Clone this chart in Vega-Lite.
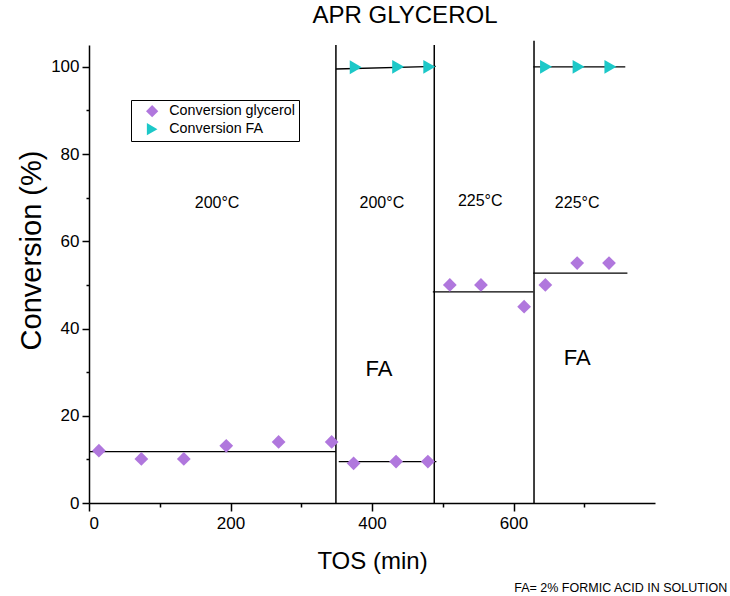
{
  "$schema": "https://vega.github.io/schema/vega-lite/v6.json",
  "width": 566,
  "height": 458,
  "autosize": {"type": "none"},
  "padding": {"left": 89, "top": 45, "right": 75, "bottom": 93},
  "background": "white",
  "config": {
    "font": "Liberation Sans",
    "view": {"stroke": null},
    "axis": {
      "domainColor": "black",
      "domainWidth": 1.5,
      "tickColor": "black",
      "tickWidth": 1.5,
      "labelColor": "black",
      "titleColor": "black",
      "labelFont": "Liberation Sans",
      "titleFont": "Liberation Sans",
      "titleFontWeight": "normal",
      "grid": false
    }
  },
  "title": {
    "text": "APR GLYCEROL",
    "fontSize": 24,
    "fontWeight": "normal",
    "font": "Liberation Sans",
    "color": "black",
    "anchor": "middle",
    "dx": 33,
    "offset": 12
  },
  "layer": [
    {
      "data": {"values": [
        {"tos": 349, "bottom": 0, "top": 105},
        {"tos": 488, "bottom": 0, "top": 105},
        {"tos": 629, "bottom": 0, "top": 106}
      ]},
      "mark": {"type": "rule", "color": "black", "strokeWidth": 1.5},
      "encoding": {
        "x": {"field": "tos", "type": "quantitative", "scale": {"domain": [0, 800], "nice": false},
          "axis": {"title": "TOS (min)", "titleFontSize": 24, "titlePadding": 18,
            "values": [0, 100, 200, 300, 400, 500, 600, 700],
            "labelExpr": "datum.value % 200 === 0 ? datum.label : ''",
            "labelFontSize": 17, "labelPadding": 4,
            "tickSize": {"condition": {"test": "datum.value % 200 === 0", "value": 8}, "value": 4}}},
        "y": {"field": "bottom", "type": "quantitative", "scale": {"domain": [0, 105], "nice": false},
          "axis": {"title": "Conversion (%)", "titleFontSize": 29, "titlePadding": 4, "titleY": 205,
            "values": [0, 10, 20, 30, 40, 50, 60, 70, 80, 90, 100],
            "labelExpr": "datum.value % 20 === 0 ? datum.label : ''",
            "labelFontSize": 17, "labelPadding": 3,
            "tickSize": {"condition": {"test": "datum.value % 20 === 0", "value": 7}, "value": 3}}},
        "y2": {"field": "top"}
      }
    },
    {
      "data": {"values": [
        {"x1": 0, "x2": 349, "y1": 11.8, "y2": 11.8},
        {"x1": 353, "x2": 491, "y1": 9.5, "y2": 9.5},
        {"x1": 486, "x2": 628, "y1": 48.4, "y2": 48.4},
        {"x1": 628, "x2": 761, "y1": 52.7, "y2": 52.7},
        {"x1": 349, "x2": 490, "y1": 99.5, "y2": 100.1},
        {"x1": 628, "x2": 758, "y1": 100, "y2": 100}
      ]},
      "mark": {"type": "rule", "color": "black", "strokeWidth": 1.3},
      "encoding": {
        "x": {"field": "x1", "type": "quantitative"},
        "x2": {"field": "x2"},
        "y": {"field": "y1", "type": "quantitative"},
        "y2": {"field": "y2"}
      }
    },
    {
      "data": {"values": [
        {"series": "Conversion glycerol", "tos": 14, "conv": 12.0},
        {"series": "Conversion glycerol", "tos": 74, "conv": 10.1},
        {"series": "Conversion glycerol", "tos": 134, "conv": 10.1},
        {"series": "Conversion glycerol", "tos": 194, "conv": 13.1},
        {"series": "Conversion glycerol", "tos": 268, "conv": 14.0},
        {"series": "Conversion glycerol", "tos": 343, "conv": 14.0},
        {"series": "Conversion glycerol", "tos": 374, "conv": 9.1},
        {"series": "Conversion glycerol", "tos": 434, "conv": 9.5},
        {"series": "Conversion glycerol", "tos": 479, "conv": 9.5},
        {"series": "Conversion glycerol", "tos": 510, "conv": 50.0},
        {"series": "Conversion glycerol", "tos": 554, "conv": 50.0},
        {"series": "Conversion glycerol", "tos": 615, "conv": 45.0},
        {"series": "Conversion glycerol", "tos": 645, "conv": 50.0},
        {"series": "Conversion glycerol", "tos": 690, "conv": 55.0},
        {"series": "Conversion glycerol", "tos": 735, "conv": 55.0},
        {"series": "Conversion FA", "tos": 377, "conv": 99.9},
        {"series": "Conversion FA", "tos": 437, "conv": 100},
        {"series": "Conversion FA", "tos": 481, "conv": 100},
        {"series": "Conversion FA", "tos": 646, "conv": 100},
        {"series": "Conversion FA", "tos": 692, "conv": 100},
        {"series": "Conversion FA", "tos": 737, "conv": 100}
      ]},
      "mark": {"type": "point", "filled": true, "opacity": 1, "size": 190},
      "encoding": {
        "x": {"field": "tos", "type": "quantitative"},
        "y": {"field": "conv", "type": "quantitative"},
        "color": {"field": "series", "type": "nominal",
          "scale": {"domain": ["Conversion glycerol", "Conversion FA"], "range": ["#b077dd", "#1cc8c8"]},
          "legend": {"title": null, "orient": "none", "legendX": 42, "legendY": 55,
            "strokeColor": "black", "padding": 4, "labelFontSize": 14.3, "labelColor": "black",
            "labelFont": "Liberation Sans", "symbolSize": 150, "rowPadding": 3, "symbolOffset": 10,
            "labelOffset": 10, "fillColor": "white", "cornerRadius": 0}},
        "shape": {"field": "series", "type": "nominal",
          "scale": {"domain": ["Conversion glycerol", "Conversion FA"], "range": ["diamond", "triangle-right"]}}
      }
    },
    {
      "data": {"values": [
        {"label": "200°C", "tos": 181, "conv": 68.8},
        {"label": "200°C", "tos": 414, "conv": 68.8},
        {"label": "225°C", "tos": 553, "conv": 69.3},
        {"label": "225°C", "tos": 690, "conv": 68.8}
      ]},
      "mark": {"type": "text", "fontSize": 16, "color": "black", "font": "Liberation Sans", "baseline": "middle"},
      "encoding": {
        "x": {"field": "tos", "type": "quantitative"},
        "y": {"field": "conv", "type": "quantitative"},
        "text": {"field": "label"}
      }
    },
    {
      "data": {"values": [
        {"label": "FA", "tos": 410, "conv": 30.7},
        {"label": "FA", "tos": 690, "conv": 33.3}
      ]},
      "mark": {"type": "text", "fontSize": 22, "color": "black", "font": "Liberation Sans", "baseline": "middle"},
      "encoding": {
        "x": {"field": "tos", "type": "quantitative"},
        "y": {"field": "conv", "type": "quantitative"},
        "text": {"field": "label"}
      }
    },
    {
      "data": {"values": [
        {"label": "FA= 2% FORMIC ACID IN SOLUTION", "tos": 902, "conv": -20.3}
      ]},
      "mark": {"type": "text", "fontSize": 12.5, "color": "black", "font": "Liberation Sans", "align": "right", "baseline": "alphabetic"},
      "encoding": {
        "x": {"field": "tos", "type": "quantitative"},
        "y": {"field": "conv", "type": "quantitative"},
        "text": {"field": "label"}
      }
    }
  ]
}
